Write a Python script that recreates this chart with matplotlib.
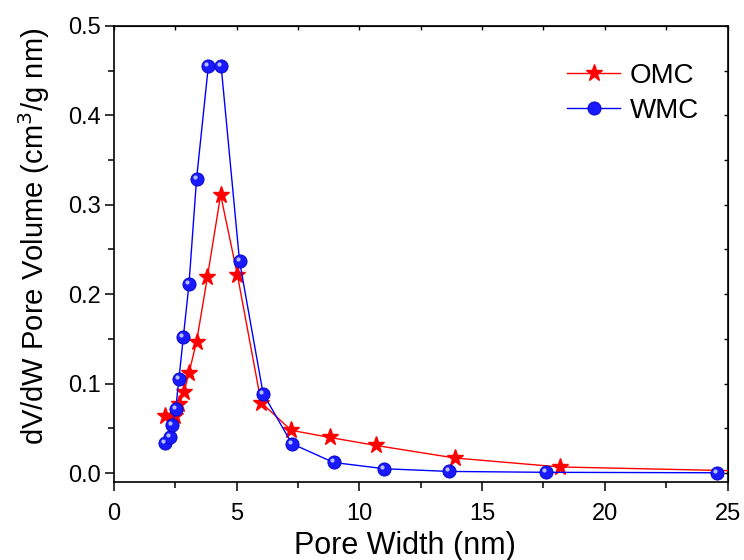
import numpy as np
import matplotlib.pyplot as plt
from matplotlib.transforms import offset_copy

plt.rcParams['font.family'] = ['Liberation Sans', 'DejaVu Sans']

# OMC (red stars)
omc_w = [2.08, 2.31, 2.49, 2.65, 2.86, 3.06, 3.37, 3.81, 4.35, 5.03, 6.00,
         7.22, 8.79, 10.68, 13.89, 18.16, 26.5]
omc_v = [0.064, 0.062, 0.064, 0.077, 0.091, 0.112, 0.147, 0.219, 0.311, 0.222,
         0.079, 0.048, 0.040, 0.031, 0.017, 0.007, 0.002]

# WMC (blue spheres)
wmc_w = [2.08, 2.29, 2.38, 2.52, 2.65, 2.83, 3.06, 3.37, 3.85, 4.37, 5.12,
         6.08, 7.25, 8.95, 11.02, 13.65, 17.6, 24.56]
wmc_v = [0.034, 0.040, 0.054, 0.072, 0.105, 0.152, 0.211, 0.329, 0.455, 0.455,
         0.237, 0.089, 0.033, 0.012, 0.005, 0.002, 0.001, 0.0005]

fig = plt.figure(figsize=(7.44, 5.6), dpi=100)
ax = fig.add_axes([0.153, 0.139, 0.825, 0.815])

ax.plot(omc_w, omc_v, color='#ff0000', lw=1.0, marker='*', ms=12.5,
        mec='#ff0000', mfc='#ff0000', label='OMC', zorder=3)
ax.plot(wmc_w, wmc_v, color='#0000ff', lw=1.0, marker='o', ms=9.5,
        mec='#0000c0', mew=0.6, mfc='#1a1aff', label='WMC', zorder=4)
# little highlight on the spheres
hl = offset_copy(ax.transData, fig=fig, x=-2, y=2, units='dots')
ax.plot(wmc_w, wmc_v, ls='none', marker='o', ms=3, mec='none',
        mfc='#b8c0ff', transform=hl, zorder=5)

ax.set_xlim(0, 25)
ax.set_ylim(-0.01, 0.5)
ax.set_xticks(np.arange(0, 26, 5))
ax.set_xticks(np.arange(2.5, 25, 5), minor=True)
ax.set_yticks(np.arange(0, 0.51, 0.1))
ax.set_yticks(np.arange(0.05, 0.5, 0.1), minor=True)
ax.yaxis.set_major_formatter(plt.FormatStrFormatter('%.1f'))

for s in ax.spines.values():
    s.set_linewidth(1.2)
ax.tick_params(which='major', direction='out', length=6.5, width=1.1,
               labelsize=17, pad=3)
ax.tick_params(axis='x', which='major', pad=8.5)
ax.tick_params(which='minor', direction='out', length=4, width=1.1)

# inward ticks on top and right
top = ax.secondary_xaxis('top')
top.set_xticks(np.arange(0, 26, 5))
top.set_xticks(np.arange(2.5, 25, 5), minor=True)
top.tick_params(which='both', direction='in', length=3, width=1.0,
                labeltop=False)
right = ax.secondary_yaxis('right')
right.set_yticks(np.arange(0, 0.51, 0.1))
right.set_yticks(np.arange(0.05, 0.5, 0.1), minor=True)
right.tick_params(which='both', direction='in', length=3, width=1.0,
                  labelright=False)

ax.set_xlabel('Pore Width (nm)', fontsize=22)
ax.xaxis.set_label_coords(0.474, -0.108)
ax.set_ylabel('dV/dW Pore Volume (cm$^3$/g nm)', fontsize=21)
ax.yaxis.set_label_coords(-0.10, 0.539)

ax.legend(loc='upper left', bbox_to_anchor=(0.739, 0.918), frameon=False,
          fontsize=20, borderpad=0, borderaxespad=0, handlelength=1.9,
          handletextpad=0.35, labelspacing=0.3)

plt.savefig('out.png', dpi=100)
